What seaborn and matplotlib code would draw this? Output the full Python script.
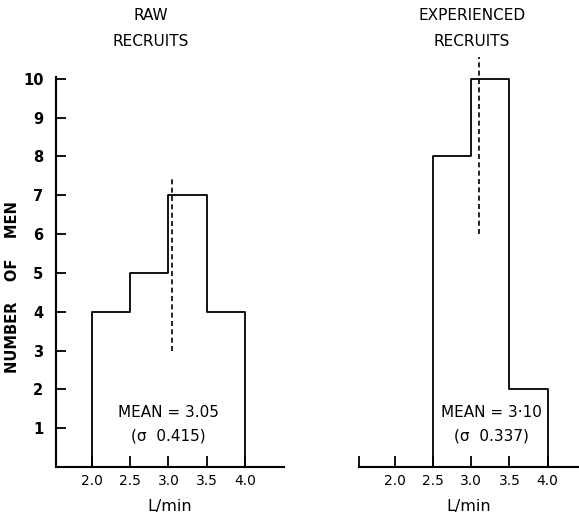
import matplotlib
matplotlib.use("Agg")
import matplotlib.pyplot as plt
import seaborn as sns

# bins (L/min) and counts
bin_edges = [2.0, 2.5, 3.0, 3.5, 4.0]
raw_counts = [4, 5, 7, 4]
exp_bin_edges = [2.5, 3.0, 3.5, 4.0]
exp_counts = [8, 10, 2]

raw_mean, raw_sd = 3.05, 0.415
exp_mean, exp_sd = 3.10, 0.337
raw_mean_span = (3, 7.5)
exp_mean_span = (6, 10.55)

x_ticks = [2.0, 2.5, 3.0, 3.5, 4.0]
x_tick_labels = ["2.0", "2.5", "3.0", "3.5", "4.0"]
y_ticks = list(range(1, 11))

sns.set_style("white")
plt.rcParams["font.family"] = ["DejaVu Sans"]
plt.rcParams["text.color"] = "black"

fig = plt.figure(figsize=(5.79, 5.21), dpi=100)
ax1 = fig.add_axes([56 / 579, 54 / 521, 228 / 579, 427 / 521])
ax2 = fig.add_axes([359 / 579, 54 / 521, 220 / 579, 427 / 521])


def centers(edges):
    return [(a + b) / 2 for a, b in zip(edges[:-1], edges[1:])]


# step histograms, then strip the fill so only the outline stays
sns.histplot(x=centers(bin_edges), weights=raw_counts, bins=bin_edges,
             element="step", fill=True, color="black", alpha=1,
             linewidth=1.3, ax=ax1)
sns.histplot(x=centers(exp_bin_edges), weights=exp_counts, bins=exp_bin_edges,
             element="step", fill=True, color="black", alpha=1,
             linewidth=1.3, ax=ax2)
for ax in (ax1, ax2):
    for coll in ax.collections:
        coll.set_facecolor("none")
        coll.set_edgecolor("black")

ax1.vlines(raw_mean, *raw_mean_span, color="black", lw=1.2, linestyles=(0, (3, 2)))
ax2.vlines(exp_mean, *exp_mean_span, color="black", lw=1.2, linestyles=(0, (3, 2)))

for ax in (ax1, ax2):
    ax.set_ylim(0, 11)
    ax.set_ylabel("")
    ax.set_xticks(x_ticks)
    ax.set_xticklabels(x_tick_labels, fontsize=10)
    ax.tick_params(axis="x", which="both", bottom=True, direction="in", length=8,
                   width=1.3, pad=5, colors="black")
    for s in ("top", "right"):
        ax.spines[s].set_visible(False)
    ax.spines["bottom"].set_linewidth(1.5)
    ax.spines["bottom"].set_color("black")
    ax.set_xlabel("L/min", fontsize=11.5, labelpad=8, color="black")

ax1.set_xlim(1.53, 4.51)
ax2.set_xlim(1.53, 4.41)

ax1.set_yticks(y_ticks)
ax1.set_yticklabels([str(v) for v in y_ticks], fontsize=10.5, fontweight="bold")
ax1.tick_params(axis="y", left=True, direction="in", length=7, width=1.3, pad=9,
                colors="black")
ax1.spines["left"].set_bounds(0, 10.05)
ax1.spines["left"].set_linewidth(1.5)
ax1.spines["left"].set_color("black")

ax2.spines["left"].set_visible(False)
ax2.set_yticks([])
ax2.set_xticks([1.535], minor=True)

ax1.text(3.0, 1.4, f"MEAN = {raw_mean:.2f}", ha="center", va="center", fontsize=11)
ax1.text(3.0, 0.8, f"(σ  {raw_sd:.3f})", ha="center", va="center", fontsize=11)
ax2.text(3.27, 1.4, "MEAN = 3·10", ha="center", va="center", fontsize=11)
ax2.text(3.27, 0.8, f"(σ  {exp_sd:.3f})", ha="center", va="center", fontsize=11)

fig.text(151 / 579, 1 - 15 / 521, "RAW", ha="center", va="center", fontsize=11)
fig.text(151 / 579, 1 - 42 / 521, "RECRUITS", ha="center", va="center", fontsize=11)
fig.text(472 / 579, 1 - 15 / 521, "EXPERIENCED", ha="center", va="center", fontsize=11)
fig.text(472 / 579, 1 - 42 / 521, "RECRUITS", ha="center", va="center", fontsize=11)
fig.text(13 / 579, 1 - 287 / 521, "NUMBER    OF    MEN", rotation=90,
         ha="center", va="center", fontsize=10.5, fontweight="bold")

fig.savefig("out.png", dpi=100)
